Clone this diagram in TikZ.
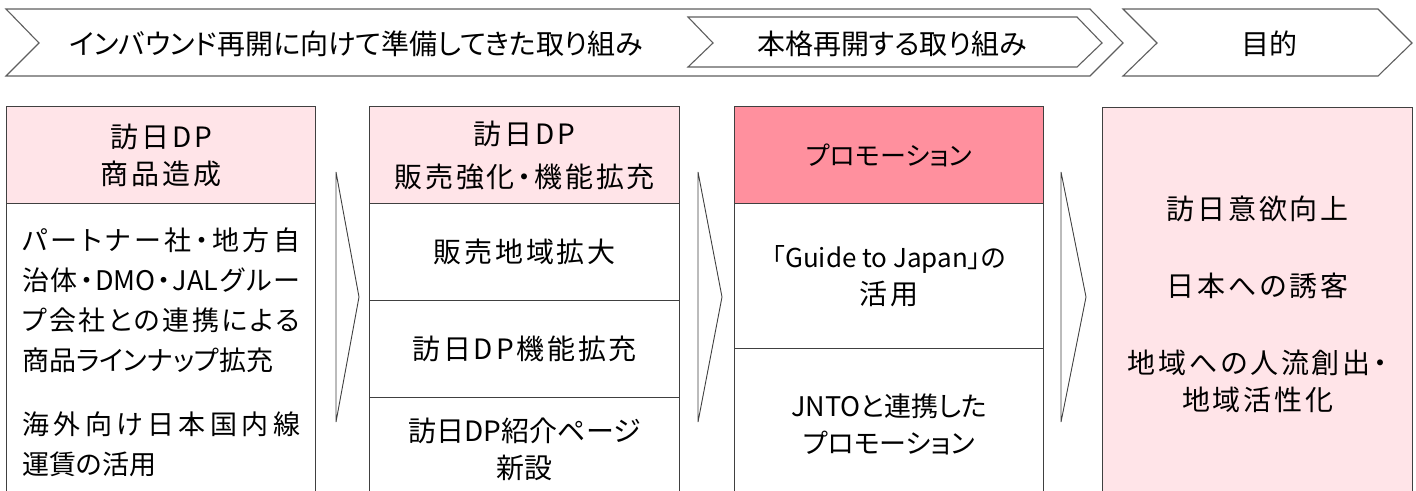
\documentclass[tikz,border=0pt]{standalone}
\usepackage{fontspec}
\setmainfont{Noto Sans CJK JP}[RawFeature=+palt]
\newfontfamily\cellfont{Noto Sans CJK JP}[RawFeature=+palt,LetterSpace=10]
\usetikzlibrary{positioning}
\definecolor{hdpink}{RGB}{255,228,232}
\definecolor{promopink}{RGB}{255,144,158}
\definecolor{boxgray}{RGB}{64,64,64}
\definecolor{chevgray}{RGB}{95,95,95}
% justified line, spread to the cell text width
\def\spreadchars#1{\ifx\relax#1\else#1\hskip 0pt plus 1fil\expandafter\spreadchars\fi}
\newcommand{\jline}[1]{\makebox[278pt][s]{\spreadchars#1\relax\unskip}}
\begin{document}
\begin{tikzpicture}[x=1pt,y=-1pt,
  cell/.style={draw=boxgray,line width=1.3pt,anchor=north west,inner sep=0pt,align=center,font=\cellfont\fontsize{28}{37}\selectfont},
  plain/.style={font=\normalfont\fontsize{#1}{37}\selectfont},
  chev/.style={draw=chevgray,line width=1.1pt,fill=white},
  tri/.style={draw=boxgray,line width=0.9pt,fill=white},
  bandtext/.style={font=\fontsize{28}{34}\selectfont}]
\clip (0,0) rectangle (1416,490);
%phase bands
\draw[chev](6,9)--(1090,9)--(1123,43)--(1090,76)--(6,76)--(39,43)--cycle;
\draw[chev](688,17)--(1077,17)--(1102,43)--(1077,67)--(688,67)--(713,43)--cycle;
\draw[chev](1123,9)--(1378,9)--(1412,43)--(1378,76)--(1123,76)--(1157,43)--cycle;
\node[bandtext](prep) at (356,44){インバウンド再開に向けて準備してきた取り組み};
\node[bandtext](restart) at (892,44){本格再開する取り組み};
\node[bandtext](goal) at (1269,44){目的};
%column 1
\node[cell,fill=hdpink,minimum width=309pt,minimum height=97pt](makeHead) at (6,106){訪日DP\\商品造成};
\node[cell,align=left,font=\normalfont\fontsize{27}{40}\selectfont,minimum width=309pt,minimum height=297pt](makeBody) at (6,203)
  {\jline{パートナー社・地方自}\\\jline{治体・{DMO}・{JAL}グルー}\\\jline{プ会社との連携による}\\商品ラインナップ拡充\\[24pt]\jline{海外向け日本国内線}\\運賃の活用};
%column 2
\node[cell,fill=hdpink,minimum width=310pt,minimum height=97pt](saleHead) at (369,106){訪日DP\\[6pt]販売強化・機能拡充};
\node[cell,minimum width=310pt,minimum height=97pt](saleArea) at (369,203){販売地域拡大};
\node[cell,minimum width=310pt,minimum height=97pt](saleFunc) at (369,300){訪日DP機能拡充};
\node[cell,plain=28,minimum width=310pt,minimum height=103pt](salePage) at (369,397){訪日DP紹介ページ\\新設};
%column 3
\node[cell,plain=26,fill=promopink,minimum width=309pt,minimum height=97pt](promoHead) at (734,106){プロモーション};
\node[cell,minimum width=309pt,minimum height=145pt](promoGuide) at (734,203){{\normalfont\fontsize{26}{37}\selectfont「Guide to Japan」の}\\活用};
\node[cell,plain=27,minimum width=309pt,minimum height=152pt](promoJnto) at (734,348){JNTOと連携した\\プロモーション};
%column 4
\node[cell,fill=hdpink,minimum width=310pt,minimum height=393pt](goalBox) at (1102,107){訪日意欲向上\\[40pt]日本への誘客\\[40pt]地域への人流創出・\\地域活性化};
%arrows
\draw[tri](336,172)--(359,297)--(336,422)--cycle;
\draw[tri](698,172)--(722,297)--(698,422)--cycle;
\draw[tri](1061,172)--(1086,297)--(1061,422)--cycle;
\end{tikzpicture}
\end{document}
